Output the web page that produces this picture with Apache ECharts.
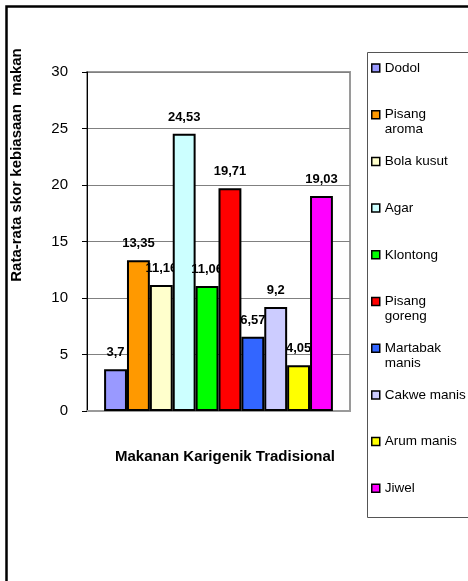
<!DOCTYPE html>
<html>
<head>
<meta charset="utf-8">
<script src="https://cdn.jsdelivr.net/npm/echarts@6/dist/echarts.min.js"></script>
<style>
  html, body { margin: 0; padding: 0; background: #ffffff; }
  #chart { width: 468px; height: 581px; }
</style>
</head>
<body>
<div id="chart"></div>
<script>
// Rata-rata skor kebiasaan makan per jenis makanan karigenik tradisional
const foods = ['Dodol', 'Pisang aroma', 'Bola kusut', 'Agar', 'Klontong',
  'Pisang goreng', 'Martabak manis', 'Cakwe manis', 'Arum manis', 'Jiwel'];
const scores = [3.7, 13.35, 11.16, 24.53, 11.06, 19.71, 6.57, 9.2, 4.05, 19.03];
const colors = ['#9999FF', '#FF9900', '#FFFFCC', '#CCFFFF', '#00FF00',
  '#FF0000', '#3366FF', '#CCCCFF', '#FFFF00', '#FF00FF'];
const legendLabels = ['Dodol', 'Pisang\naroma', 'Bola kusut', 'Agar', 'Klontong',
  'Pisang\ngoreng', 'Martabak\nmanis', 'Cakwe manis', 'Arum manis', 'Jiwel'];
const yTicks = [0, 5, 10, 15, 20, 25, 30];
const categoryName = 'Makanan Karigenik Tradisional';
const yTitle = 'Rata-rata skor kebiasaan  makan';

const FONT = '"Liberation Sans", Arial, sans-serif';

const chart = echarts.init(document.getElementById('chart'), null, { renderer: 'canvas' });

// One series per food so each gets its own legend entry; later series sit above
// earlier ones, so a neighbouring bar can cover part of a value label.
const series = foods.map((name, i) => ({
  name: name,
  type: 'bar',
  z: 2 + i,
  data: [scores[i]],
  barGap: '0%',
  barCategoryGap: '13%',
  itemStyle: { color: colors[i], borderColor: '#000', borderWidth: 2 },
  label: {
    show: true,
    position: 'top',
    distance: 10,
    color: '#000',
    fontFamily: FONT,
    fontWeight: 'bold',
    fontSize: 13,
    formatter: p => String(p.value).replace('.', ',')
  },
  emphasis: { disabled: true }
}));

// Legend entries stacked at an even step; two-line names keep the swatch on their first line.
const legendStep = 46.7;
const legendFirst = 68;
const legendLine = 15;
const legends = foods.map((name, i) => {
  const twoLine = legendLabels[i].indexOf('\n') >= 0;
  const yc = legendFirst + i * legendStep;
  return {
    data: [name],
    orient: 'vertical',
    left: 371,
    top: twoLine ? yc - legendLine * 1.5 : yc - legendLine / 2,
    padding: 0,
    itemWidth: 8,
    itemHeight: 8,
    icon: 'rect',
    selectedMode: false,
    itemStyle: { borderColor: '#000', borderWidth: 1.5 },
    textStyle: { fontFamily: FONT, fontSize: 13.5, color: '#000', lineHeight: legendLine },
    formatter: n => {
      const lbl = legendLabels[foods.indexOf(n)];
      return lbl.indexOf('\n') >= 0 ? '\n' + lbl : lbl;
    }
  };
});

chart.setOption({
  animation: false,
  backgroundColor: '#ffffff',
  grid: {
    left: 87, top: 72, right: 118, bottom: 170,
    show: true, borderColor: '#9a9a9a', borderWidth: 2, backgroundColor: 'transparent'
  },
  legend: legends,
  xAxis: {
    type: 'category',
    data: [categoryName],
    axisLabel: { show: false },
    axisTick: { show: false },
    axisLine: { show: true, lineStyle: { color: '#9a9a9a', width: 2 } }
  },
  yAxis: {
    type: 'value',
    min: yTicks[0],
    max: yTicks[yTicks.length - 1],
    interval: yTicks[1] - yTicks[0],
    axisLine: { show: true, lineStyle: { color: '#000', width: 1 } },
    axisTick: { show: true, inside: false, length: 5, lineStyle: { color: '#000' } },
    axisLabel: { margin: 19, color: '#000', fontFamily: FONT, fontSize: 15 },
    splitLine: { show: true, lineStyle: { color: '#808080', width: 1 } }
  },
  graphic: [
    {
      type: 'rect', silent: true, z: -1,
      shape: { x: 6.5, y: 6.5, width: 520, height: 640 },
      style: { fill: 'none', stroke: '#000', lineWidth: 2.5 }
    },
    {
      type: 'rect', silent: true, z: -1,
      shape: { x: 367.5, y: 52.5, width: 140, height: 465 },
      style: { fill: '#fff', stroke: '#555', lineWidth: 1 }
    },
    {
      type: 'text', silent: true,
      x: 225, y: 457,
      style: {
        text: categoryName, fill: '#000', font: 'bold 15px ' + FONT,
        align: 'center', verticalAlign: 'middle'
      }
    },
    {
      type: 'text', silent: true,
      x: 17, y: 165, rotation: Math.PI / 2,
      style: {
        text: yTitle, fill: '#000', font: 'bold 15px ' + FONT,
        align: 'center', verticalAlign: 'middle'
      }
    }
  ],
  series: series
});
</script>
</body>
</html>
